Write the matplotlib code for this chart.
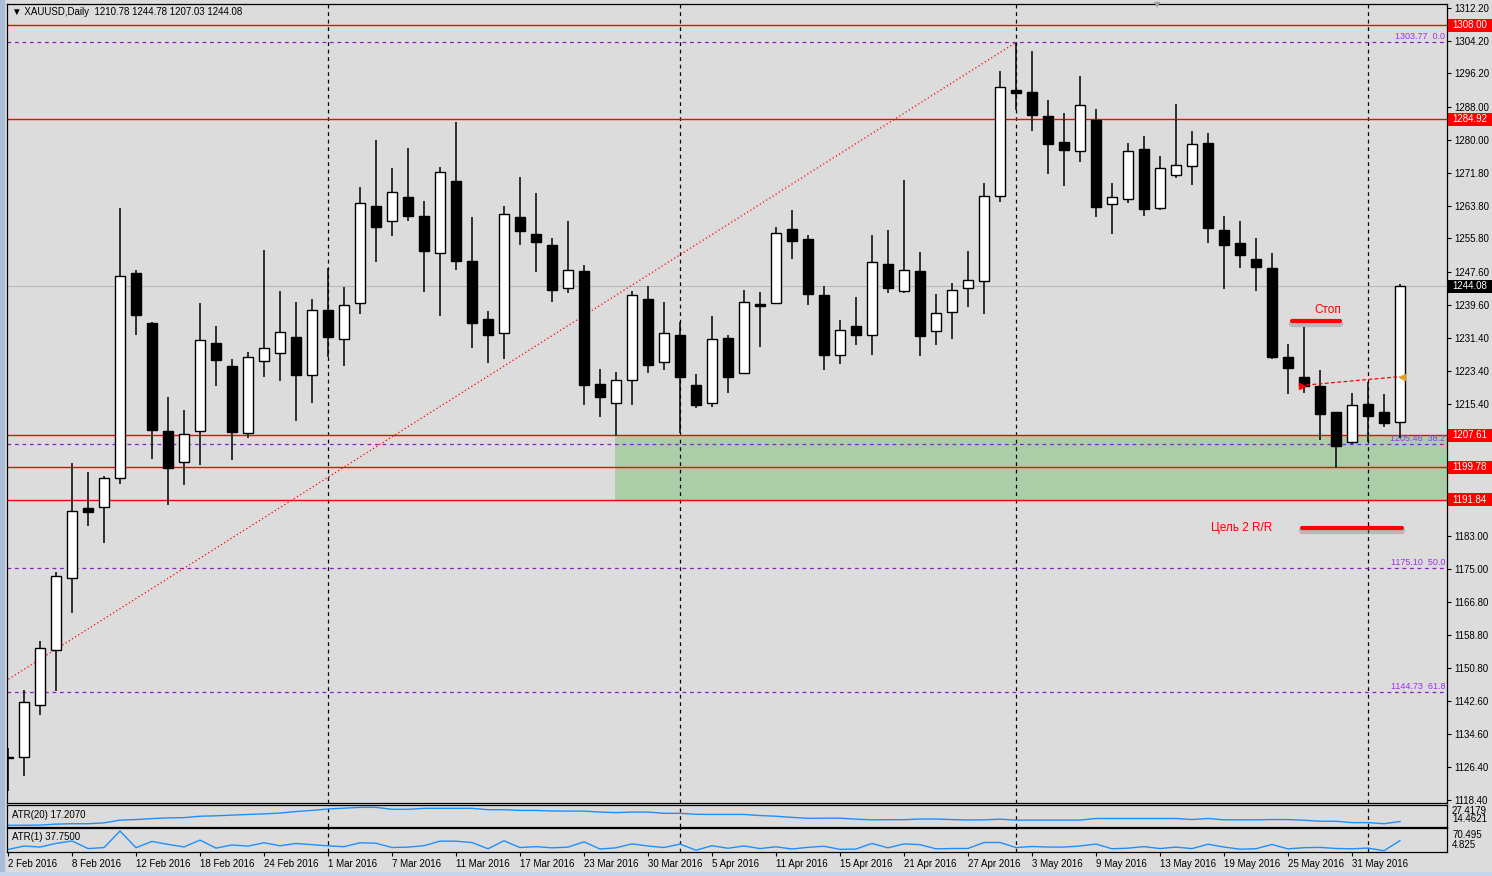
import numpy as np
import matplotlib.pyplot as plt
from matplotlib.patches import Rectangle
import matplotlib.transforms as mtransforms

plt.rcParams['font.family'] = ['Liberation Sans', 'DejaVu Sans']

# XAUUSD daily, 2 Feb 2016 .. 3 Jun 2016
opens = [1128.9, 1129.0, 1141.7, 1155.0, 1172.6, 1189.8, 1190.0, 1197.1, 1247.3, 1235.0,
         1208.6, 1201.2, 1208.8, 1230.3, 1224.7, 1208.2, 1225.7, 1227.9, 1231.8, 1222.3,
         1238.2, 1231.2, 1239.9, 1263.7, 1260.2, 1265.9, 1261.2, 1252.2, 1269.9, 1250.4,
         1236.0, 1232.6, 1261.0, 1256.8, 1254.1, 1243.8, 1247.8, 1220.3, 1215.5, 1221.1,
         1240.9, 1225.5, 1232.1, 1219.9, 1215.5, 1231.4, 1222.8, 1239.7, 1239.9, 1258.0,
         1255.6, 1241.9, 1227.2, 1234.5, 1232.1, 1249.6, 1242.9, 1247.8, 1233.1, 1237.7,
         1243.6, 1245.3, 1266.1, 1292.1, 1291.6, 1285.7, 1279.4, 1277.2, 1284.9, 1264.2,
         1265.4, 1277.7, 1263.2, 1271.3, 1273.5, 1279.1, 1257.8, 1254.6, 1250.9, 1248.7,
         1226.7, 1222.0, 1219.6, 1213.3, 1205.9, 1215.2, 1213.3, 1210.78]
highs = [1131.0, 1145.4, 1157.2, 1174.3, 1200.9, 1198.7, 1197.6, 1263.2, 1248.2, 1235.3,
         1216.9, 1213.8, 1239.9, 1234.3, 1226.2, 1228.1, 1253.1, 1242.9, 1240.2, 1240.9,
         1248.5, 1243.9, 1268.3, 1279.9, 1273.0, 1277.9, 1265.0, 1273.2, 1284.3, 1261.0,
         1238.0, 1263.8, 1270.8, 1266.9, 1255.9, 1260.1, 1249.2, 1223.9, 1223.1, 1242.9,
         1244.2, 1240.2, 1235.4, 1222.6, 1236.8, 1232.2, 1243.2, 1242.6, 1258.5, 1262.8,
         1256.6, 1244.1, 1235.9, 1241.5, 1256.6, 1257.9, 1270.1, 1252.5, 1242.2, 1244.8,
         1252.7, 1269.5, 1296.8, 1303.6, 1301.7, 1289.7, 1286.6, 1295.6, 1287.4, 1269.5,
         1279.1, 1280.8, 1276.1, 1288.6, 1282.1, 1281.5, 1261.3, 1260.1, 1255.8, 1252.2,
         1230.1, 1234.1, 1223.5, 1213.3, 1218.1, 1220.8, 1217.7, 1244.78]
lows = [1120.5, 1124.3, 1139.2, 1145.0, 1164.2, 1185.4, 1181.3, 1195.7, 1232.2, 1201.8,
        1190.6, 1195.5, 1200.4, 1219.7, 1201.7, 1207.1, 1221.8, 1221.0, 1211.2, 1215.6,
        1226.8, 1224.7, 1237.2, 1250.1, 1256.5, 1260.2, 1242.8, 1236.9, 1248.2, 1229.1,
        1225.4, 1226.4, 1254.3, 1247.7, 1240.3, 1242.4, 1215.1, 1212.0, 1207.5, 1215.1,
        1223.0, 1223.7, 1208.3, 1214.4, 1214.6, 1218.0, 1222.6, 1229.3, 1239.7, 1250.9,
        1239.5, 1223.6, 1225.1, 1229.7, 1227.4, 1242.4, 1242.5, 1227.1, 1229.8, 1231.3,
        1239.1, 1237.4, 1264.7, 1287.2, 1282.1, 1271.7, 1268.7, 1274.4, 1261.1, 1256.8,
        1264.6, 1261.4, 1262.8, 1270.7, 1269.0, 1254.8, 1243.4, 1248.7, 1243.0, 1226.2,
        1217.7, 1218.1, 1206.6, 1199.7, 1205.5, 1206.0, 1209.7, 1207.03]
closes = [1128.7, 1142.3, 1155.5, 1173.3, 1189.0, 1188.8, 1197.1, 1246.5, 1237.1, 1209.0,
          1199.6, 1208.0, 1230.9, 1226.1, 1208.5, 1226.8, 1228.9, 1232.8, 1222.5, 1238.4,
          1231.8, 1239.6, 1264.4, 1258.7, 1267.1, 1261.3, 1252.8, 1272.0, 1250.4, 1235.0,
          1232.3, 1261.9, 1257.7, 1255.0, 1243.2, 1248.2, 1220.0, 1217.1, 1221.1, 1241.9,
          1224.9, 1232.6, 1222.0, 1215.1, 1231.1, 1221.8, 1240.2, 1239.4, 1257.1, 1255.3,
          1242.3, 1227.2, 1233.3, 1232.3, 1250.0, 1243.8, 1248.0, 1231.9, 1237.5, 1243.1,
          1245.6, 1266.1, 1292.8, 1291.3, 1286.1, 1279.0, 1277.5, 1288.4, 1263.6, 1265.9,
          1277.1, 1263.1, 1273.0, 1273.7, 1278.8, 1258.4, 1254.3, 1251.8, 1248.9, 1226.9,
          1224.2, 1219.7, 1212.8, 1205.0, 1215.1, 1212.4, 1210.7, 1244.08]

atr20 = [14.5, 14.5, 14.6, 15.3, 15.6, 15.6, 16.2, 18.2, 18.6, 19.3,
         19.8, 20.0, 21.0, 21.3, 21.8, 22.3, 22.7, 23.3, 24.4, 25.2,
         26.2, 26.8, 27.4, 27.4, 26.0, 26.0, 26.7, 26.7, 26.7, 26.7,
         25.7, 25.7, 25.2, 25.2, 24.8, 24.7, 24.7, 24.0, 23.6, 24.0,
         24.0, 23.1, 23.1, 22.4, 22.3, 22.3, 22.3, 21.5, 21.0, 20.2,
         19.5, 19.6, 19.6, 18.9, 18.4, 18.5, 18.5, 19.0, 19.0, 18.6,
         18.3, 18.4, 18.9, 18.2, 18.2, 18.2, 18.2, 18.2, 19.4, 19.4,
         19.4, 19.4, 19.4, 19.4, 18.6, 19.4, 18.4, 18.4, 18.4, 18.6,
         18.6, 18.1, 17.4, 17.4, 16.4, 16.4, 15.6, 17.2]
atr1 = [10.5, 21.1, 18.0, 29.3, 36.7, 13.3, 16.3, 67.5, 16.0, 35.3,
        26.3, 18.3, 39.5, 14.6, 24.5, 21.0, 31.3, 21.9, 29.0, 25.3,
        21.7, 19.2, 31.1, 29.8, 16.5, 17.7, 22.2, 36.3, 36.1, 31.9,
        12.6, 37.4, 16.5, 19.2, 15.6, 17.7, 34.1, 11.9, 15.6, 27.8,
        21.2, 16.5, 27.1, 8.2, 22.2, 14.2, 21.4, 13.3, 18.8, 11.9,
        17.1, 20.5, 10.8, 11.8, 29.2, 15.5, 27.6, 25.4, 12.4, 13.5,
        13.6, 32.1, 32.1, 16.4, 19.6, 18.0, 17.9, 21.2, 27.3, 12.7,
        14.5, 19.4, 13.3, 17.9, 13.1, 26.7, 17.9, 11.4, 12.8, 26.0,
        12.4, 16.0, 16.9, 13.6, 12.6, 14.8, 6.5, 37.75]

date_labels = ['2 Feb 2016', '8 Feb 2016', '12 Feb 2016', '18 Feb 2016', '24 Feb 2016',
               '1 Mar 2016', '7 Mar 2016', '11 Mar 2016', '17 Mar 2016', '23 Mar 2016',
               '30 Mar 2016', '5 Apr 2016', '11 Apr 2016', '15 Apr 2016', '21 Apr 2016',
               '27 Apr 2016', '3 May 2016', '9 May 2016', '13 May 2016', '19 May 2016',
               '25 May 2016', '31 May 2016']
price_ticks = [1312.20, 1304.20, 1296.20, 1288.00, 1280.00, 1271.80, 1263.80, 1255.80,
               1247.60, 1239.60, 1231.40, 1223.40, 1215.40, 1207.20, 1199.20, 1191.00,
               1183.00, 1175.00, 1166.80, 1158.80, 1150.80, 1142.60, 1134.60, 1126.40, 1118.40]
covered_ticks = [1207.20, 1199.20, 1191.00]   # hidden under the level boxes

red_levels = [1308.00, 1284.92, 1207.61, 1199.78, 1191.84]
fib_levels = [1303.77, 1205.46, 1175.10, 1144.73]
fib_names = ['0.0', '38.2', '50.0', '61.8']
fib_low, fib_high = 1046.43, 1303.77
month_starts = [20, 42, 63, 85]   # 1 Mar, 1 Apr, 2 May, 1 Jun
zone = (1191.84, 1207.61)
last_price = 1244.08

W, H = 1492, 876
BG = '#dcdcdc'


def box(x0, y0, x1, y1):
    return [x0 / W, 1 - y1 / H, (x1 - x0) / W, (y1 - y0) / H]


fig = plt.figure(figsize=(W / 100, H / 100), dpi=100)
fig.patch.set_facecolor(BG)
fig.patches.append(Rectangle((0, 0), 4 / W, 1, transform=fig.transFigure, color='#a9bdd6', zorder=0))
fig.patches.append(Rectangle((0, 0), 1, 4 / H, transform=fig.transFigure, color='#c6d6ea', zorder=0))

ax = fig.add_axes(box(7, 4, 1447, 803))
ax1 = fig.add_axes(box(7, 805, 1447, 827))
ax2 = fig.add_axes(box(7, 828, 1447, 852))

n = len(opens)
x = np.arange(n)
xlim = (-0.0625, 89.94)

for a in (ax, ax1, ax2):
    a.set_facecolor(BG)
    a.set_xlim(*xlim)
    for s in a.spines.values():
        s.set_linewidth(0.9)
        s.set_color('black')
    for m in month_starts:
        a.axvline(m, color='black', lw=0.9, ls=(0, (3, 3)), zorder=1)

# ---- main price panel
ax.set_ylim(1117.66, 1313.18)
ax.set_xticks([])
ax.yaxis.tick_right()
ax.set_yticks(price_ticks)
ax.set_yticklabels(['' if t in covered_ticks else '%.2f' % t for t in price_ticks])
ax.tick_params(axis='y', length=3, width=0.8, pad=2, labelsize=7)

ax.add_patch(Rectangle((37.94, zone[0]), xlim[1] - 37.94, zone[1] - zone[0],
                       facecolor='#abcea8', edgecolor='none', zorder=0.5))
for lv in fib_levels:
    ax.axhline(lv, color='#8a1fd0', lw=0.9, ls=(0, (3, 3)), zorder=1)
for lv, nm in zip(fib_levels, fib_names):
    ax.text(xlim[1] - 0.1, lv + 0.3, '%.2f  %s' % (lv, nm), color='#a030e8', fontsize=6.5,
            ha='right', va='bottom', zorder=2)
ax.axhline(last_price, color='#b8b8b8', lw=0.8, zorder=1)
for lv in red_levels:
    ax.axhline(lv, color='red', lw=1.0, zorder=1.5)
ax.plot([-41, 63], [fib_low, fib_high], color='red', lw=0.9, ls=(0, (1, 2)), zorder=1.5)

# candles
bw = 0.62
for i in range(n):
    o, h, l, c = opens[i], highs[i], lows[i], closes[i]
    ax.plot([i, i], [l, h], color='black', lw=1.1, zorder=3, solid_capstyle='butt')
    lo, hi = min(o, c), max(o, c)
    ht = max(hi - lo, 0.25)
    ax.add_patch(Rectangle((i - bw / 2, lo), bw, ht, facecolor='white' if c > o else 'black',
                           edgecolor='black', lw=1.0, zorder=4))

# trade line and annotations
ax.plot([80.75, 87.0], [1219.8, 1222.0], color='red', lw=0.9, ls=(0, (3, 2)), zorder=5)
ax.plot([80.85], [1219.8], marker='>', color='red', ms=5, zorder=6)
ax.plot([87.1], [1222.0], marker='<', color='#e0a020', ms=5, zorder=6)

for xs, yv in (([80.25, 83.25], 1235.6), ([80.9, 87.1], 1184.96)):
    ax.plot(xs, [yv - 0.7, yv - 0.7], color='#777777', lw=4.5, alpha=0.35, zorder=5,
            solid_capstyle='round')
    ax.plot(xs, [yv, yv], color='red', lw=3.0, zorder=6, solid_capstyle='round')
ax.text(82.5, 1238.2, 'Стоп', color='red', fontsize=8.5, ha='center', va='center', zorder=6)
ax.text(77.1, 1184.96, 'Цель 2 R/R', color='red', fontsize=8.5, ha='center', va='center', zorder=6)

ax.text(0.0035, 1 - 8 / 799, '\u25BC XAUUSD,Daily  1210.78 1244.78 1207.03 1244.08',
        transform=ax.transAxes, fontsize=7, va='center', ha='left', zorder=7)

# right-side price boxes (fixed pixel width, like the terminal draws them)
trans = mtransforms.blended_transform_factory(ax.transAxes, ax.transData)
px = (1313.18 - 1117.66) / 799.0
for lv, col in [(v, 'red') for v in red_levels] + [(last_price, 'black')]:
    ax.add_patch(Rectangle((1441 / 1440, lv - 6.5 * px), 44 / 1440, 13 * px, transform=trans,
                           facecolor=col, edgecolor='none', clip_on=False, zorder=9))
    ax.text(1445 / 1440, lv, '%.2f' % lv, transform=trans, color='white', fontsize=7,
            ha='left', va='center', clip_on=False, zorder=10)

# ---- ATR(20)
ax1.plot(x, atr20, color='#1e8fff', lw=1.0)
ax1.set_ylim(13.24, 29.1)
ax1.set_xticks([])
ax1.set_yticks([])
ax1.text(0.0035, 0.55, 'ATR(20) 17.2070', transform=ax1.transAxes, fontsize=7, va='center')
fig.text(1452 / W, 1 - 811 / H, '27.4179', fontsize=7, va='center')
fig.text(1452 / W, 1 - 819 / H, '14.4621', fontsize=7, va='center')

# ---- ATR(1)
ax2.plot(x, atr1, color='#1e8fff', lw=1.0)
ax2.set_ylim(2.7, 76.8)
ax2.set_yticks([])
ax2.text(0.0035, 0.62, 'ATR(1) 37.7500', transform=ax2.transAxes, fontsize=7, va='center')
fig.text(1452 / W, 1 - 835 / H, '70.495', fontsize=7, va='center')
fig.text(1452 / W, 1 - 845 / H, '4.825', fontsize=7, va='center')

ax2.set_xticks(np.arange(0, 88, 4))
ax2.set_xticklabels(date_labels)
ax2.tick_params(axis='x', length=3, width=0.8, pad=2, labelsize=7)
for t in ax2.get_xticklabels():
    t.set_ha('left')

# chart shift marker
fig.text(1157 / W, 1 - 5 / H, '\u25BC', color='#a0a0a0', fontsize=6, ha='center', va='center',
         family=['DejaVu Sans'])

fig.savefig('out.png', dpi=100, facecolor=fig.get_facecolor())
